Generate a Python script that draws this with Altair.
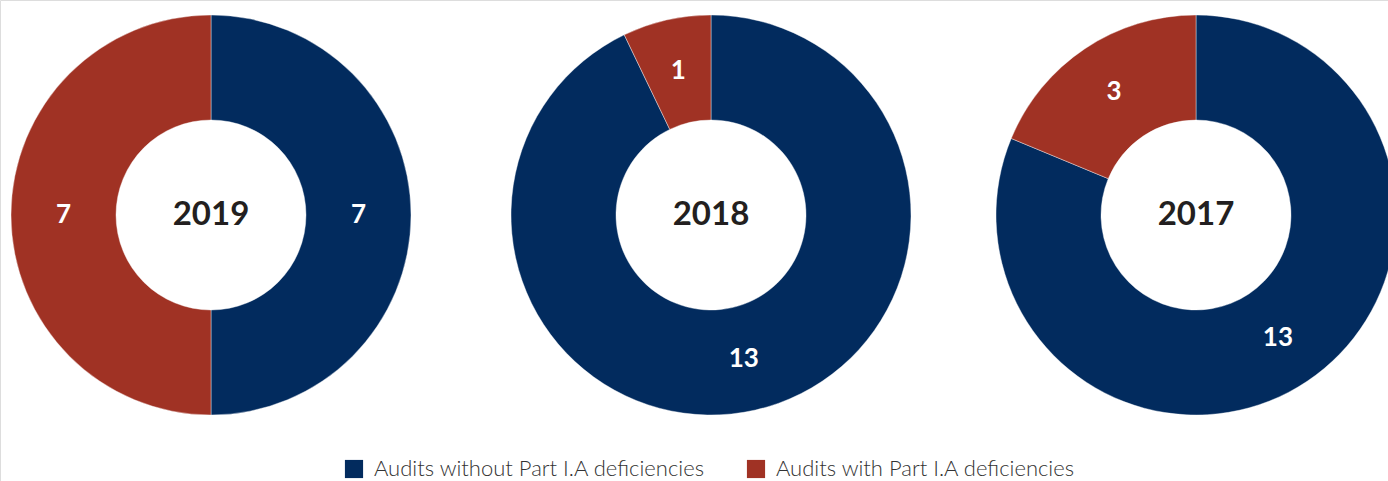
import altair as alt
import pandas as pd

years = ["2019", "2018", "2017"]
without_def = [7, 13, 13]
with_def = [7, 1, 3]
categories = ["Audits without Part I.A deficiencies", "Audits with Part I.A deficiencies"]
colors = ["#022B5E", "#A03224"]

centers_x = [211, 711, 1196]
center_y = 215
inner_r = 95
outer_r = 200

rows = []
for yr, a, b in zip(years, without_def, with_def):
    rows.append({"year": yr, "cat": categories[0], "value": a, "ord": 0})
    rows.append({"year": yr, "cat": categories[1], "value": b, "ord": 1})
df = pd.DataFrame(rows)

FONT = "Lato"
LEGEND_FONT = "Lato"
layers = []
for i, yr in enumerate(years):
    cx = centers_x[i]
    base = alt.Chart(df).transform_filter(alt.datum.year == yr)
    arc = base.mark_arc(innerRadius=inner_r, outerRadius=outer_r, stroke="#ffffff", strokeWidth=0.4).encode(
        theta=alt.Theta("value:Q", stack=True),
        order=alt.Order("ord:Q", sort="ascending"),
        color=alt.Color(
            "cat:N",
            scale=alt.Scale(domain=categories, range=colors),
            sort=categories,
            legend=alt.Legend(
                title=None,
                orient="none",
                legendX=343,
                legendY=458,
                direction="horizontal",
                symbolType="square",
                symbolSize=330,
                symbolStrokeWidth=0,
                labelFontSize=22,
                labelFont=LEGEND_FONT,
                labelFontWeight=300,
                labelColor="#333333",
                labelOffset=9,
                labelLimit=0,
                columnPadding=39,
                symbolOpacity=1,
            ) if i == 0 else None,
        ),
        x=alt.value(cx),
        y=alt.value(center_y),
    )
    labels = base.mark_text(radius=(inner_r + outer_r) / 2, fontSize=26, fontWeight="bold", font=FONT, color="white").encode(
        theta=alt.Theta("value:Q", stack=True),
        order=alt.Order("ord:Q", sort="ascending"),
        text=alt.Text("value:Q"),
        x=alt.value(cx),
        y=alt.value(center_y),
    )
    center = base.transform_filter(alt.datum.ord == 0).mark_text(
        fontSize=33, fontWeight="bold", font=FONT, color="#231F20", baseline="middle", align="center"
    ).encode(
        text=alt.Text("year:N"),
        x=alt.value(cx),
        y=alt.value(center_y),
    )
    layers += [arc, labels, center]

chart = alt.layer(*layers).resolve_scale(theta="independent").properties(
    width=1388, height=481, padding=0, autosize=alt.AutoSizeParams(type="none")
).configure_view(stroke=None).configure(background="white")

chart.save("out.html", embed_options={"renderer": "svg", "actions": False})
